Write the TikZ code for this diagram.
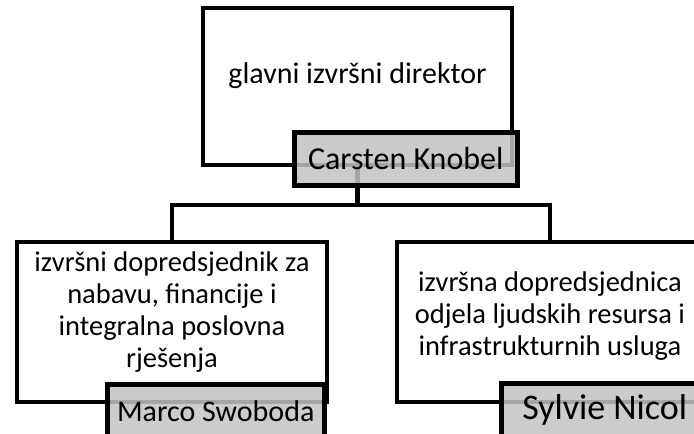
\documentclass[tikz,border=0pt]{standalone}
\usepackage{fontspec}
\setmainfont{Carlito}
\usepackage{xcolor}
\usetikzlibrary{positioning}

\tikzset{
  posbox/.style={draw, line width=4.5pt, fill=white, inner sep=0pt},
  postext/.style={align=center, font=\fontsize{28.5}{32}\selectfont},
  namebox/.style={draw, line width=4.5pt, fill=gray!47, fill opacity=0.85, text opacity=1,
    inner sep=0pt, minimum width=223pt, minimum height=53pt,
    font=\fontsize{32}{36}\selectfont},
  link/.style={line width=4.5pt}
}

\begin{document}
\begin{tikzpicture}[x=1pt, y=-1pt]
    \useasboundingbox (0,0) rectangle (694,434);

    % positions
    \node[posbox, minimum width=309pt, minimum height=157pt,
      label={[postext, name=ceotext, yshift=11pt, font=\fontsize{30}{32}\selectfont]center:glavni izvršni direktor}]
      (ceo) at (357.5,86.5) {};
    \node[posbox, minimum width=310pt, minimum height=160pt,
      label={[postext, name=cfotext, yshift=9.5pt]center:izvršni dopredsjednik za\\nabavu, financije i\\integralna poslovna\\rješenja}]
      (cfo) at (172,322) {};
    \node[posbox, minimum width=306pt, minimum height=160pt,
      label={[postext, name=hrtext, yshift=5.5pt]center:izvršna dopredsjednica\\odjela ljudskih resursa i\\infrastrukturnih usluga}]
      (hr) at (550,322) {};

    % links
    \coordinate (bus) at (357.5,205);
    \draw[link] (ceo.south) -- (bus);
    \draw[link] (bus) -| (cfo.north);
    \draw[link] (bus) -| (hr.north);

    % names
    \node[namebox, anchor=north west] (ceoname) at (292,130) {Carsten Knobel};
    \node[namebox, anchor=north west, minimum width=217pt,
      font=\fontsize{30}{32}\selectfont] (cfoname) at (105,382) {Marco Swoboda};
    \node[namebox, anchor=north west, minimum width=207pt,
      font=\fontsize{36}{40}\selectfont] (hrname) at (499,381) {Sylvie Nicol};
\end{tikzpicture}
\end{document}
